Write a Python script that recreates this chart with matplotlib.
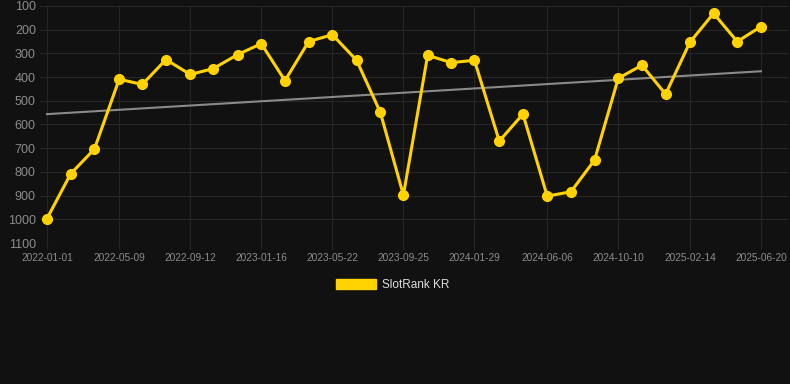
import numpy as np
import pandas as pd
import matplotlib
matplotlib.use("Agg")
import matplotlib.pyplot as plt
import matplotlib.dates as mdates
from matplotlib.patches import Patch

plt.rcParams['font.family'] = ['Liberation Sans', 'DejaVu Sans']

dates = [
    "2022-01-01", "2022-02-12", "2022-03-26", "2022-05-09", "2022-06-19",
    "2022-07-31", "2022-09-12", "2022-10-23", "2022-12-05", "2023-01-16",
    "2023-02-27", "2023-04-10", "2023-05-22", "2023-07-04", "2023-08-15",
    "2023-09-25", "2023-11-07", "2023-12-19", "2024-01-29", "2024-03-13",
    "2024-04-24", "2024-06-06", "2024-07-18", "2024-08-29", "2024-10-10",
    "2024-11-21", "2025-01-02", "2025-02-14", "2025-03-28", "2025-05-09",
    "2025-06-20",
]
ranks = [
    997, 808, 704, 409, 431, 326, 389, 364, 305, 259,
    415, 250, 221, 329, 548, 898, 308, 339, 329, 670,
    556, 902, 884, 750, 405, 350, 472, 253, 131, 250,
    187,
]
tick_labels = [
    "2022-01-01", "2022-05-09", "2022-09-12", "2023-01-16", "2023-05-22",
    "2023-09-25", "2024-01-29", "2024-06-06", "2024-10-10", "2025-02-14",
    "2025-06-20",
]
y_ticks = [100, 200, 300, 400, 500, 600, 700, 800, 900, 1000, 1100]
series_name = "SlotRank KR"

bg = "#111111"
gold = "#FFD200"

x = pd.to_datetime(dates)
xn = mdates.date2num(x)
y = np.array(ranks)

# linear trend through the points
k, b = np.polyfit(xn, y, 1)
trend = k * xn + b

fig = plt.figure(figsize=(7.9, 3.84), dpi=100, facecolor=bg)
ax = fig.add_axes([40 / 790, 141 / 384, 748 / 790, 237 / 384])
ax.set_facecolor(bg)

ax.plot(x, trend, color="#8a8a8a", lw=1.5, zorder=2)
ax.plot(x, y, color=gold, lw=2.2, marker="o", ms=7, zorder=3)

ax.set_ylim(1100, 100)
ax.set_yticks(y_ticks)
ticks = mdates.date2num(pd.to_datetime(tick_labels))
ax.set_xticks(ticks)
ax.set_xticklabels(tick_labels)
ax.set_xlim(xn[0] - 12.4, xn[-1] + 48)

ax.grid(True, color="#262626", lw=0.8)
ax.set_axisbelow(True)
for s in ax.spines.values():
    s.set_visible(False)
ax.tick_params(axis="y", colors="#8c8c8c", labelsize=9, length=0, pad=3)
ax.tick_params(axis="x", colors="#8c8c8c", labelsize=7.3, length=4, color="#262626", pad=3)

handles = [Patch(facecolor=gold, edgecolor=gold, label=series_name)]
leg = fig.legend(handles=handles, loc="center", bbox_to_anchor=(0.497, 1 - 285 / 384),
                 frameon=False, fontsize=8.5, handlelength=3.4, handleheight=0.9,
                 handletextpad=0.5)
for t in leg.get_texts():
    t.set_color("#dddddd")

fig.savefig("out.png", dpi=100, facecolor=bg)
